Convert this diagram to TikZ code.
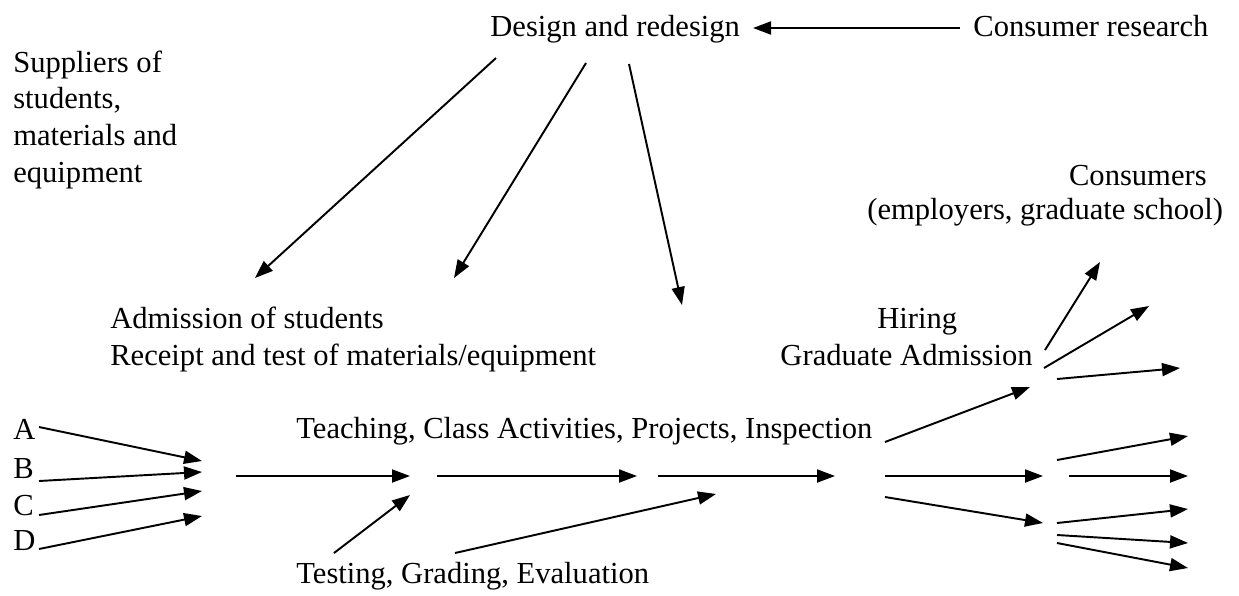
\documentclass[tikz,border=0pt]{standalone}
\usepackage{fontspec}
\setmainfont{Liberation Serif}
\usetikzlibrary{arrows.meta}

\tikzset{
  txt/.style={inner sep=0pt, font=\fontsize{17.4}{21}\selectfont},
  pfeil/.style={line width=1.1pt, -{Triangle[length=0.36cm, width=0.26cm]}}
}

\begin{document}
\begin{tikzpicture}[x=0.02cm, y=-0.02cm]
		\useasboundingbox (0,0) rectangle (1239,595);

		% Oben
		\node[txt, anchor=base west] (design) at (490,36) {Design and redesign};
		\node[txt, anchor=base west] (research) at (973,36) {Consumer research};
		\node[txt, anchor=base west] (sup1) at (13,72) {Suppliers of};
		\node[txt, anchor=base west] (sup2) at (13,108) {students,};
		\node[txt, anchor=base west] (sup3) at (13,145) {materials and};
		\node[txt, anchor=base west] (sup4) at (13,182) {equipment};
		\node[txt, anchor=base east] (cons1) at (1207,185) {Consumers};
		\node[txt, anchor=base west] (cons2) at (867,219) {(employers, graduate school)};

		% Mitte
		\node[txt, anchor=base west] (adm1) at (110,328) {Admission of students};
		\node[txt, anchor=base west] (adm2) at (110,365) {Receipt and test of materials/equipment};
		\node[txt, anchor=base west] (hire1) at (877,328) {Hiring};
		\node[txt, anchor=base east] (hire2) at (1033,365) {Graduate Admission};

		% Unten
		\node[txt, anchor=base west] (teach) at (296,438) {Teaching, Class Activities, Projects, Inspection};
		\node[txt, anchor=base west] (test) at (296,583) {Testing, Grading, Evaluation};
		\foreach \l/\y in {A/439, B/478, C/515, D/550}
			\node[txt, anchor=base west] (\l) at (13,\y) {\l};

		% Pfeile
		\foreach \sx/\sy/\ex/\ey [count=\i] in {
				960/28/753/28,
				496/58/255/278, 586/63/454/278, 629/64/682/305,
				39/427/202/461, 39/481/202/472, 39/515/202/491, 39/549/202/516,
				236/476/410/476, 334/553/410/495,
				437/476/637/476, 658/476/835/476, 455/553/716/494,
				885/442/1030/387, 885/476/1043/476, 885/497/1043/523,
				1045/350/1100/262, 1044/368/1149/306, 1057/379/1180/368,
				1057/460/1188/436, 1069/476/1188/476,
				1057/523/1188/509, 1057/535/1188/543, 1057/543/1188/568} {
			\coordinate (s\i) at (\sx,\sy);
			\coordinate (e\i) at (\ex,\ey);
			\draw[pfeil] (s\i) -- (e\i);
		}
	\end{tikzpicture}
\end{document}
